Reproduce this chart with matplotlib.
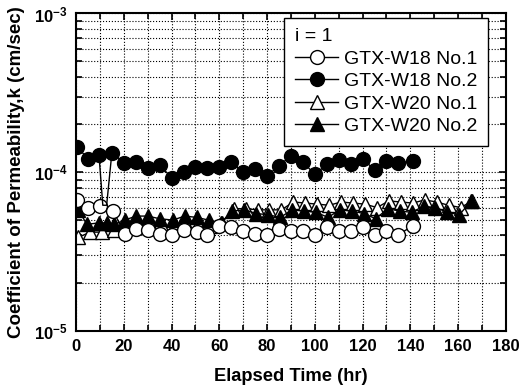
import matplotlib
matplotlib.use('Agg')
import matplotlib.pyplot as plt
from matplotlib.ticker import MultipleLocator, LogLocator, FixedLocator, FixedFormatter, NullFormatter

plt.rcParams['font.family'] = ['Liberation Sans', 'DejaVu Sans']
plt.rcParams['mathtext.fontset'] = 'custom'
plt.rcParams['mathtext.rm'] = 'Liberation Sans'
plt.rcParams['mathtext.bf'] = 'Liberation Sans:bold'

# GTX-W18 No.1 (open circles)
t_w18_1 = [0.5, 5, 10, 15.5, 20.5, 25, 30, 35, 40, 45, 50.5, 55, 60, 65, 70, 75, 80,
           85, 90, 95, 100, 105, 110, 115, 120, 125, 130, 135, 141]
k_w18_1 = [6.7e-5, 6.0e-5, 6.1e-5, 5.7e-5, 4.1e-5, 4.4e-5, 4.3e-5, 4.1e-5, 4.05e-5,
           4.3e-5, 4.2e-5, 4.05e-5, 4.6e-5, 4.5e-5, 4.25e-5, 4.1e-5, 4.0e-5, 4.4e-5,
           4.25e-5, 4.25e-5, 4.05e-5, 4.55e-5, 4.25e-5, 4.25e-5, 4.55e-5, 4.05e-5,
           4.25e-5, 4.05e-5, 4.6e-5]

# GTX-W18 No.2 (filled circles); two dip readings near 12 hr have no marker
t_w18_2 = [0.5, 5, 9.6, 11.2, 12.8, 15, 20, 25, 30, 35, 40, 45, 50, 55, 60, 65, 70,
           75, 80, 85, 90, 95, 100, 105, 110, 115, 120, 125, 130, 135, 141]
k_w18_2 = [1.45e-4, 1.21e-4, 1.28e-4, 6.2e-5, 6.2e-5, 1.33e-4, 1.15e-4, 1.16e-4,
           1.06e-4, 1.11e-4, 9.25e-5, 1.01e-4, 1.08e-4, 1.06e-4, 1.08e-4, 1.16e-4,
           1.0e-4, 1.05e-4, 9.5e-5, 1.1e-4, 1.27e-4, 1.16e-4, 9.7e-5, 1.12e-4,
           1.19e-4, 1.12e-4, 1.21e-4, 1.04e-4, 1.17e-4, 1.15e-4, 1.17e-4]
dip_idx = [3, 4]

# GTX-W20 No.1 (open triangles)
t_w20_1 = [1, 6, 11, 16, 21, 26, 31, 36, 41, 46, 51, 56, 61, 66, 71, 76, 81, 86,
           91, 96, 101, 106, 111, 116, 121, 126, 131, 136, 141, 146, 151, 156, 161, 166]
k_w20_1 = [3.9e-5, 4.2e-5, 4.2e-5, 4.3e-5, 4.6e-5, 4.7e-5, 4.7e-5, 4.6e-5, 4.6e-5,
           4.7e-5, 4.7e-5, 4.6e-5, 4.8e-5, 5.9e-5, 5.9e-5, 5.8e-5, 5.8e-5, 5.8e-5,
           6.5e-5, 6.4e-5, 6.3e-5, 6.2e-5, 6.5e-5, 6.4e-5, 6.3e-5, 6.0e-5, 6.6e-5,
           6.5e-5, 6.4e-5, 6.7e-5, 6.5e-5, 6.2e-5, 6.0e-5, 6.6e-5]

# GTX-W20 No.2 (filled triangles)
t_w20_2 = [1, 4.5, 9.5, 13, 16, 20.5, 25, 30, 35, 40.5, 45.5, 50.5, 55.5, 60.5, 65.5,
           70.5, 75.5, 80.5, 85.5, 90.5, 95.5, 100.5, 105.5, 110.5, 115.5, 120.5,
           125.5, 130.5, 135.5, 140.5, 145.5, 150.5, 155.5, 160.5, 165.5]
k_w20_2 = [5.8e-5, 4.7e-5, 4.8e-5, 4.8e-5, 4.7e-5, 5.0e-5, 5.3e-5, 5.3e-5, 5.1e-5,
           5.0e-5, 5.3e-5, 5.2e-5, 5.0e-5, 4.8e-5, 5.7e-5, 5.8e-5, 5.5e-5, 5.4e-5,
           5.2e-5, 5.8e-5, 5.7e-5, 5.6e-5, 5.2e-5, 5.8e-5, 5.7e-5, 5.5e-5, 5.1e-5,
           5.9e-5, 5.7e-5, 5.6e-5, 6.1e-5, 6.0e-5, 5.6e-5, 5.4e-5, 6.6e-5]

labels = ['GTX-W18 No.1', 'GTX-W18 No.2', 'GTX-W20 No.1', 'GTX-W20 No.2']
y_ticks = [1e-5, 1e-4, 1e-3]
y_tick_labels = [r'$\mathbf{10^{-5}}$', r'$\mathbf{10^{-4}}$', r'$\mathbf{10^{-3}}$']

fig = plt.figure(figsize=(5.21, 3.85), dpi=100)
ax = fig.add_axes([0.146, 0.140, 0.825, 0.825])

ms = 10
l1, = ax.plot(t_w18_1, k_w18_1, '-o', color='black', mfc='white', mec='black',
              ms=ms, lw=1, mew=1, zorder=5)
mark2 = [i for i in range(len(t_w18_2)) if i not in dip_idx]
l2, = ax.plot(t_w18_2, k_w18_2, '-o', color='black', mfc='black', mec='black',
              ms=ms, lw=1, markevery=mark2, zorder=6)
l3, = ax.plot(t_w20_1, k_w20_1, '-^', color='black', mfc='white', mec='black',
              ms=ms, lw=1, mew=1, zorder=3)
l4, = ax.plot(t_w20_2, k_w20_2, '-^', color='black', mfc='black', mec='black',
              ms=ms, lw=1, zorder=4)

ax.set_yscale('log')
ax.set_xlim(0, 180)
ax.set_ylim(1e-5, 1e-3)

ax.xaxis.set_major_locator(MultipleLocator(20))
ax.xaxis.set_minor_locator(MultipleLocator(10))
ax.yaxis.set_major_locator(FixedLocator(y_ticks))
ax.yaxis.set_major_formatter(FixedFormatter(y_tick_labels))
ax.yaxis.set_minor_locator(LogLocator(base=10, subs=range(2, 10)))
ax.yaxis.set_minor_formatter(NullFormatter())

ax.tick_params(which='both', direction='in', top=True, right=True, width=1.2)
ax.tick_params(which='major', length=5, labelsize=12, pad=6)
ax.tick_params(which='minor', length=4)
for lab in ax.get_xticklabels():
    lab.set_fontweight('bold')

ax.grid(which='both', axis='both', linestyle=':', color='black', lw=0.8)
for s in ax.spines.values():
    s.set_linewidth(1.5)
    s.set_zorder(10)

label_font = ['Liberation Sans Narrow', 'Liberation Sans', 'DejaVu Sans']
xl = ax.set_xlabel('Elapsed Time (hr)', fontsize=14, fontweight='bold',
                   family=label_font, labelpad=10)
yl = ax.set_ylabel('Coefficient of Permeability,k (cm/sec)', fontsize=14,
                   fontweight='bold', family=label_font)
ax.yaxis.set_label_coords(-0.118, 0.5)

# scale the axis titles so they span about the same length as in the source
renderer = fig.canvas.get_renderer()
for txt, target, dim in [(xl, 154, 'w'), (yl, 333, 'h')]:
    bb = txt.get_window_extent(renderer)
    size = bb.width if dim == 'w' else bb.height
    txt.set_fontsize(txt.get_fontsize() * target / size)

leg = ax.legend([l1, l2, l3, l4], labels, title='i = 1', loc='upper right',
                bbox_to_anchor=(0.958, 0.987), fontsize=14, title_fontsize=14,
                alignment='left', fancybox=False, framealpha=1, edgecolor='black',
                handlelength=2.2, handletextpad=0.3, labelspacing=0.25,
                borderpad=0.55, borderaxespad=0)
leg.get_frame().set_linewidth(1)
leg.set_zorder(20)

plt.savefig('out.png', dpi=100)
plt.close()
